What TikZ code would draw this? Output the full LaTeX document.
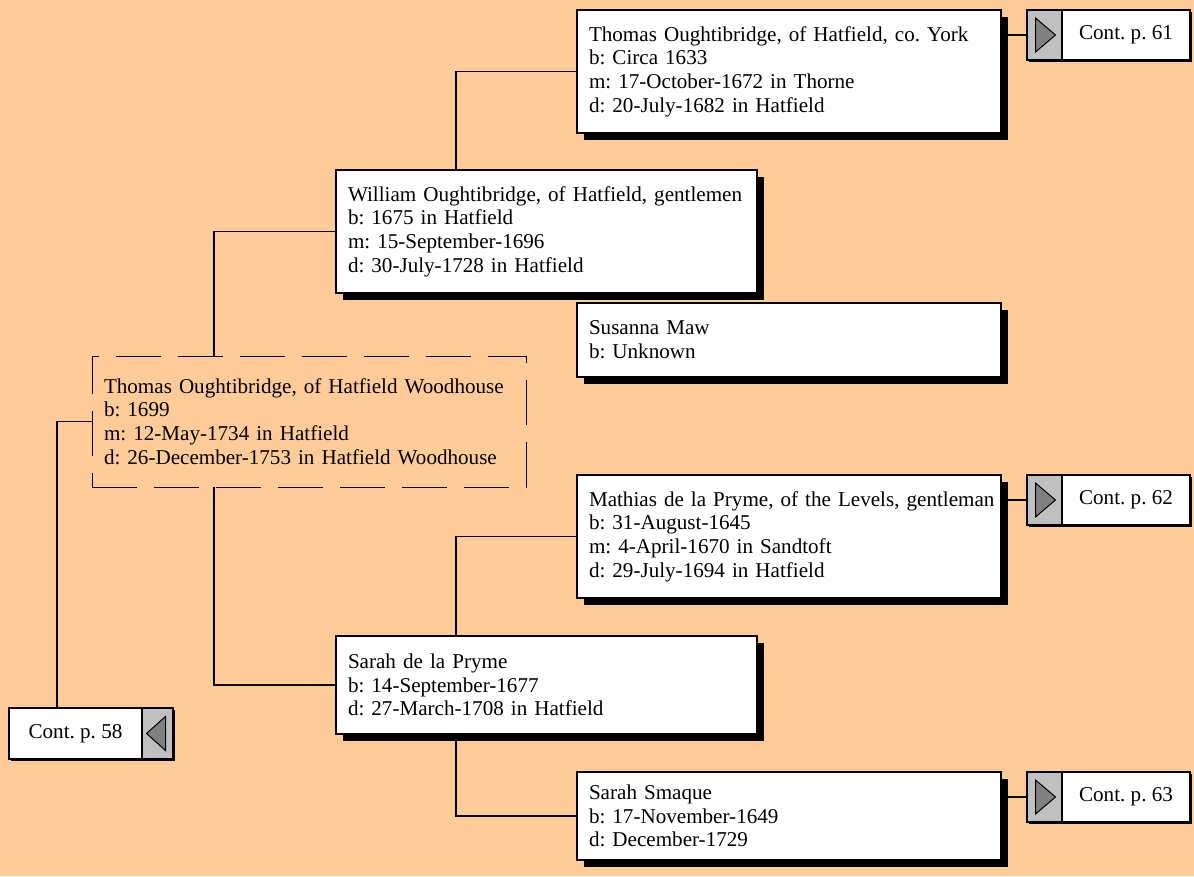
\documentclass[tikz,border=0pt]{standalone}
\usepackage{fontspec}
\setmainfont{Liberation Serif}
\usetikzlibrary{shadows, positioning}
\definecolor{peach}{HTML}{FFCC99}
\definecolor{tabgrey}{HTML}{C0C0C0}
\definecolor{tipgrey}{HTML}{808080}
\tikzset{
    person/.style = {draw, fill=white, line width=1.2pt, outer sep=0pt, inner xsep=12pt, inner ysep=0pt,
        text width=400pt, align=left, anchor=north west,
        font=\fontsize{21.1}{23.7}\selectfont\frenchspacing},
    boxed/.style = {person, drop shadow={shadow xshift=7pt, shadow yshift=-7pt, fill=black, opacity=1}},
    family line/.style = {draw, line width=1.6pt},
}
\tikzset{
    cont tab/.style = {draw, fill=tabgrey, line width=1.2pt, outer sep=0pt, inner sep=0pt,
        minimum width=35pt, minimum height=50pt,
        drop shadow={shadow xshift=2pt, shadow yshift=-2pt, fill=black, opacity=1}},
    cont text/.style = {draw, fill=white, line width=1.2pt, outer sep=0pt, inner sep=0pt,
        minimum width=128pt, minimum height=50pt, font=\fontsize{21.1}{23.7}\selectfont\frenchspacing,
        drop shadow={shadow xshift=2pt, shadow yshift=-2pt, fill=black, opacity=1}},
    tip/.style = {draw, fill=tipgrey, line width=1pt},
}
\begin{document}
\begin{tikzpicture}[x=1pt, y=-1pt]
    \fill[peach] (0,0) rectangle (1194,876);

    \node[boxed, minimum height=123pt] (tyork) at (577,10) {Thomas Oughtibridge, of Hatfield, co. York\\b: Circa 1633\\m: 17-October-1672 in Thorne\\d: 20-July-1682 in Hatfield};
    \node[boxed, text width=397pt, minimum height=123pt] (will) at (336,170) {William Oughtibridge, of Hatfield, gentlemen\\b: 1675 in Hatfield\\m: 15-September-1696\\d: 30-July-1728 in Hatfield};
    \node[boxed, minimum height=74pt] (sus) at (577,303) {Susanna Maw\\b: Unknown};
    \node[person, fill=none, line width=0.9pt, dash pattern=on 45pt off 17pt, text width=410pt, minimum height=131pt] (wood) at (92,356) {Thomas Oughtibridge, of Hatfield Woodhouse\\b: 1699\\m: 12-May-1734 in Hatfield\\d: 26-December-1753 in Hatfield Woodhouse};
    \node[boxed, minimum height=123pt] (mat) at (577,475) {\mbox{Mathias de la Pryme, of the Levels, gentleman}\\b: 31-August-1645\\m: 4-April-1670 in Sandtoft\\d: 29-July-1694 in Hatfield};
    \node[boxed, text width=397pt, minimum height=98pt] (sdlp) at (336,636) {Sarah de la Pryme\\b: 14-September-1677\\d: 27-March-1708 in Hatfield};
    \node[boxed, minimum height=88pt] (smaq) at (577,772) {Sarah Smaque\\b: 17-November-1649\\d: December-1729};

    % continuation tabs
    \node[cont tab, right=26pt of tyork.north east, anchor=north west] (c61tab) {};
    \node[cont text, right=0pt of c61tab] (c61) {Cont. p. 61};
    \node[cont tab, right=26pt of mat.north east, anchor=north west] (c62tab) {};
    \node[cont text, right=0pt of c62tab] (c62) {Cont. p. 62};
    \node[cont tab, right=26pt of smaq.north east, anchor=north west] (c63tab) {};
    \node[cont text, right=0pt of c63tab] (c63) {Cont. p. 63};
    \node[cont text, anchor=north west, minimum width=133pt, minimum height=51pt] (c58) at (9,708) {Cont. p. 58};
    \node[cont tab, right=0pt of c58, minimum width=31pt, minimum height=51pt] (c58tab) {};

    \foreach \t in {c61tab, c62tab, c63tab}
        \draw[tip] ([shift={(-9pt,17pt)}]\t.center) -- ([shift={(-9pt,-17pt)}]\t.center) -- ([xshift=11pt]\t.center) -- cycle;
    \draw[tip] ([shift={(8pt,17pt)}]c58tab.center) -- ([shift={(8pt,-17pt)}]c58tab.center) -- ([xshift=-11pt]c58tab.center) -- cycle;

    % family lines
    \draw[family line] ([xshift=48pt]c58.north west) |- (wood.west);
    \draw[family line] ([xshift=122pt]wood.north west) |- (will.west);
    \draw[family line] ([xshift=122pt]wood.south west) |- (sdlp.west);
    \draw[family line] ([xshift=120pt]will.north west) |- (tyork.west);
    \draw[family line] ([xshift=120pt]sdlp.north west) |- (mat.west);
    \draw[family line] ([xshift=120pt]sdlp.south west) |- (smaq.west);
    \draw[family line] (c61tab.west) -- (c61tab.west -| tyork.east);
    \draw[family line] (c62tab.west) -- (c62tab.west -| mat.east);
    \draw[family line] (c63tab.west) -- (c63tab.west -| smaq.east);
\end{tikzpicture}
\end{document}
